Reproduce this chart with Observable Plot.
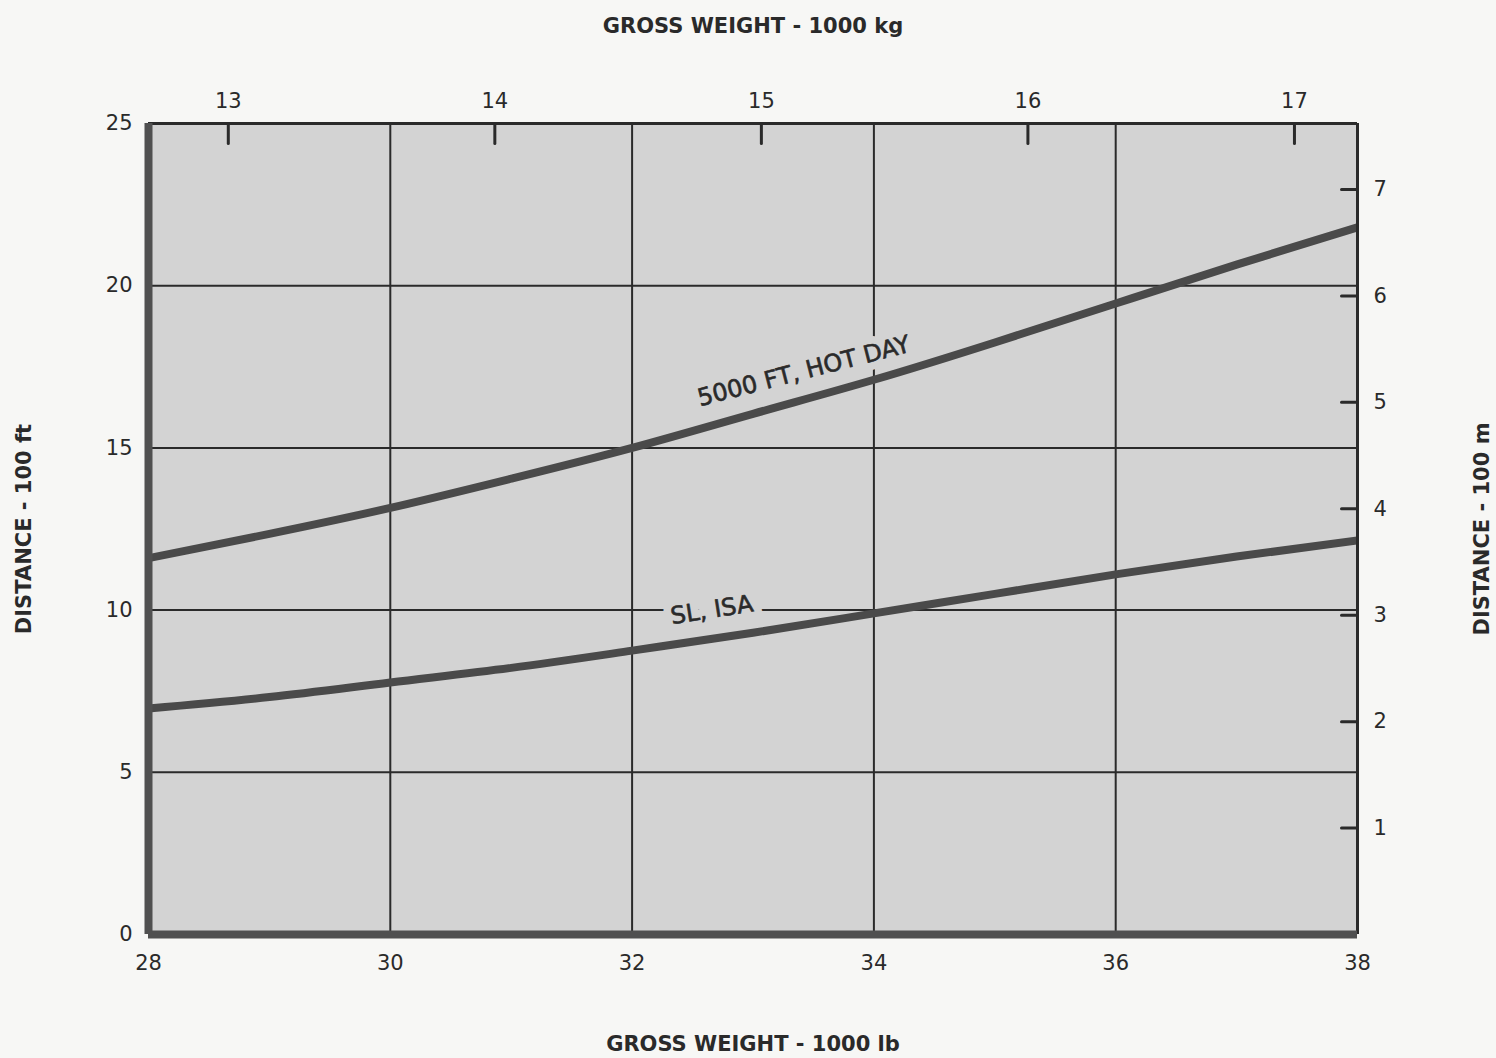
<!DOCTYPE html>
<html>
<head>
<meta charset="utf-8">
<script src="https://cdn.jsdelivr.net/npm/d3@7"></script>
<script src="https://cdn.jsdelivr.net/npm/@observablehq/plot@0.6"></script>
<style>
  html, body { margin: 0; padding: 0; background: #f7f7f5; }
  #chart svg { display: block; }
  g[aria-label$="axis label"] text { font-weight: bold; }
</style>
</head>
<body>
<div id="chart"></div>
<script>
// ---- data ----
const weightLb = [28, 29, 30, 31, 32, 33, 34, 35, 36, 37, 38];          // gross weight, 1000 lb
const hotDay   = [11.6, 12.35, 13.15, 14.05, 15.0, 16.05, 17.1, 18.25, 19.45, 20.65, 21.8]; // 100 ft
const slIsa    = [6.97, 7.32, 7.77, 8.22, 8.75, 9.3, 9.9, 10.5, 11.1, 11.65, 12.15];      // 100 ft
const seriesNames = ["5000 FT, HOT DAY", "SL, ISA"];
const xTicks  = [28, 30, 32, 34, 36, 38];
const yTicks  = [0, 5, 10, 15, 20, 25];
const kgTicks = [13, 14, 15, 16, 17];        // 1000 kg
const mTicks  = [1, 2, 3, 4, 5, 6, 7];       // 100 m
const xDomain = [28, 38];
const yDomain = [0, 25];
const labelAt = [
  {name: "5000 FT, HOT DAY", w: 33.42, d: 17.36, angle: -14.5},
  {name: "SL, ISA",          w: 32.66, d: 10.0,  angle: -9}
];

const LB_PER_KG = 2.20462;
const FT_PER_M = 3.28084;

const rows = [];
weightLb.forEach((w, i) => {
  rows.push({series: seriesNames[0], w, d: hotDay[i]});
  rows.push({series: seriesNames[1], w, d: slIsa[i]});
});

const FILL = "#d3d3d3";
const INK = "#2a2a2a";
const FS = 21;

const tickShape = {draw(context, l) { context.moveTo(0, 0); context.lineTo(0, -l); }};

const chart = Plot.plot({
  width: 1496,
  height: 1058,
  marginLeft: 148,
  marginRight: 139,
  marginTop: 123,
  marginBottom: 124,
  style: {fontFamily: "DejaVu Sans, sans-serif", fontSize: "21px", color: INK, background: "transparent"},
  x: {domain: xDomain},
  y: {domain: yDomain},
  marks: [
    Plot.frame({fill: FILL, stroke: null}),
    Plot.gridX(xTicks, {stroke: INK, strokeOpacity: 1, strokeWidth: 2}),
    Plot.gridY(yTicks, {stroke: INK, strokeOpacity: 1, strokeWidth: 2}),
    // halos that break the grid behind curve labels
    Plot.text(labelAt, {x: "w", y: "d", text: "name", rotate: "angle", fontSize: 24,
      fill: FILL, stroke: FILL, strokeWidth: 16}),
    Plot.line(rows, {x: "w", y: "d", z: "series", stroke: "#4a4a4a", strokeWidth: 8,
      curve: "natural", clip: true}),
    Plot.text(labelAt, {x: "w", y: "d", text: "name", rotate: "angle", fontSize: 24, fill: INK,
      stroke: INK, strokeWidth: 0.6}),
    // inward tick marks for secondary scales
    Plot.vector(kgTicks, {x: d => d * LB_PER_KG, y: () => yDomain[1], length: 20, rotate: 180,
      anchor: "start", shape: tickShape, stroke: INK, strokeWidth: 3}),
    Plot.vector(mTicks, {x: () => xDomain[1], y: d => d * FT_PER_M, length: 16, rotate: -90,
      anchor: "start", shape: tickShape, stroke: INK, strokeWidth: 3}),
    // frame borders
    Plot.ruleX([xDomain[1]], {stroke: INK, strokeWidth: 3}),
    Plot.ruleY([yDomain[1]], {stroke: INK, strokeWidth: 3}),
    Plot.ruleX([xDomain[0]], {stroke: "#505050", strokeWidth: 8}),
    Plot.ruleY([yDomain[0]], {stroke: "#505050", strokeWidth: 8}),
    // axes
    Plot.axisX(xTicks, {anchor: "bottom", tickSize: 0, tickPadding: 21, fontSize: FS,
      tickFormat: d => String(d),
      label: "GROSS WEIGHT - 1000 lb", labelAnchor: "center", labelOffset: 116, labelArrow: "none"}),
    Plot.axisX(kgTicks.map(k => k * LB_PER_KG), {anchor: "top", tickSize: 0, tickPadding: 16, fontSize: FS,
      tickFormat: d => String(Math.round(d / LB_PER_KG)),
      label: "GROSS WEIGHT - 1000 kg", labelAnchor: "center", labelOffset: 105, labelArrow: "none"}),
    Plot.axisY(yTicks, {anchor: "left", tickSize: 0, tickPadding: 16, fontSize: FS,
      tickFormat: d => String(d),
      label: "DISTANCE - 100 ft", labelAnchor: "center", labelOffset: 132, labelArrow: "none"}),
    Plot.axisY(mTicks.map(m => m * FT_PER_M), {anchor: "right", tickSize: 0, tickPadding: 16, fontSize: FS,
      tickFormat: d => String(Math.round(d / FT_PER_M)),
      label: "DISTANCE - 100 m", labelAnchor: "center", labelOffset: 131, labelArrow: "none"})
  ]
});
document.getElementById("chart").appendChild(chart);
</script>
</body>
</html>
